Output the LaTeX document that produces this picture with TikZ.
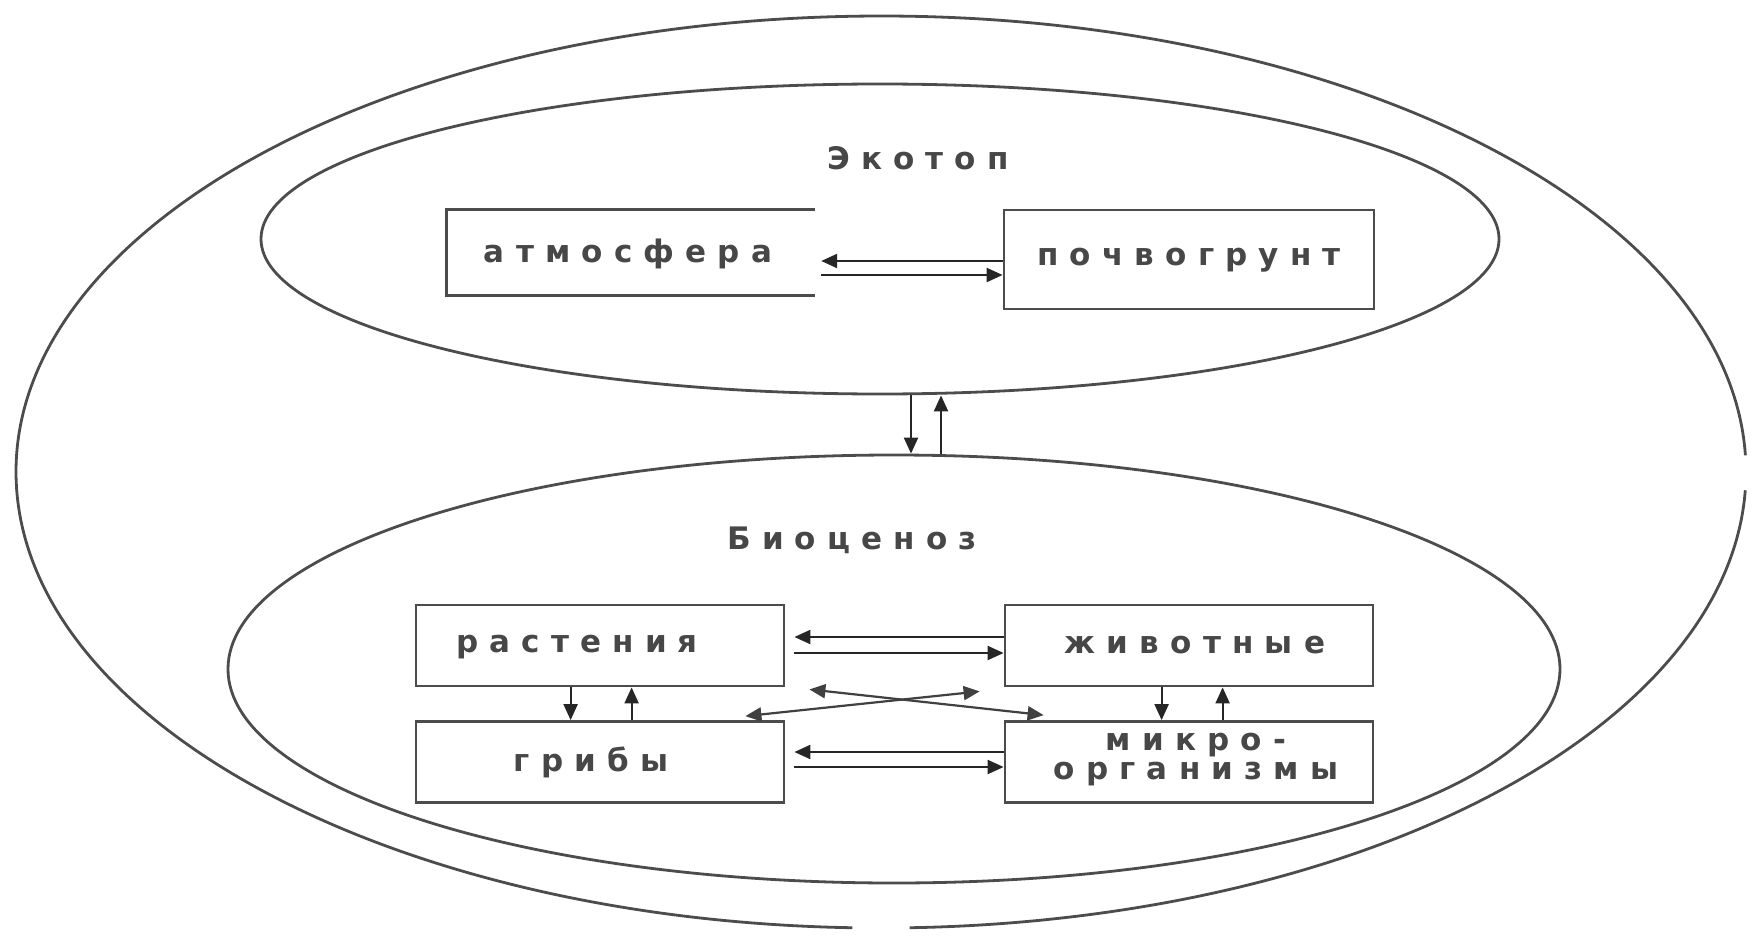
\documentclass[tikz,border=0pt]{standalone}
\usepackage{fontspec}
\setmainfont{DejaVu Sans}
\newfontfamily\lblfont[LetterSpace=36]{DejaVu Sans Bold}
\usetikzlibrary{shapes.geometric,arrows.meta,calc}
\begin{document}
\begin{tikzpicture}[x=1pt,y=-1pt,
  lbl/.style={font=\lblfont\fontsize{31}{34}\selectfont, text=black!72, inner sep=0pt},
  box/.style={draw=black!70, line width=2.8pt, minimum width=368pt, minimum height=81pt, inner sep=0pt},
  arr/.style={-{Triangle[length=16pt,width=14pt]}, line width=2.2pt, draw=black!85},
  darr/.style={{Triangle[length=16pt,width=14pt]}-{Triangle[length=16pt,width=14pt]}, line width=2.2pt, draw=black!75},
  ring/.style={draw=black!70, line width=2.8pt, ellipse, inner sep=0pt}]
\useasboundingbox (0,0) rectangle (1763,936);
% outer ellipse with two small gaps
\draw[draw=black!70, line width=2.8pt] ([shift={(2.1:865pt and 456pt)}]881,472)
   arc[start angle=2.1, end angle=268.1, x radius=865pt, y radius=456pt];
\draw[draw=black!70, line width=2.8pt] ([shift={(271.9:865pt and 456pt)}]881,472)
   arc[start angle=271.9, end angle=357.7, x radius=865pt, y radius=456pt];
% inner ellipses
\node[ring, minimum width=1238pt, minimum height=310pt] (eco) at (880,239) {};
\node[ring, minimum width=1332pt, minimum height=428pt] (bio) at (894,669) {};
\node[lbl] (teco) at (918,158) {Экотоп};
\node[lbl] (tbio) at (852,540) {Биоценоз};
% ecotope boxes
\node[minimum width=368pt, minimum height=85pt, inner sep=0pt] (atm) at (631,252.5) {};
\draw[draw=black!70, line width=2.8pt] (atm.north east) -- (atm.north west) -- (atm.south west) -- (atm.south east);
\node[lbl] (tatm) at (628,254) {атмосфера};
\node[box, minimum width=370pt, minimum height=99pt] (poch) at (1189,259.5) {};
\node[lbl] (tpoch) at (1189,260) {почвогрунт};
\draw[arr] ($(poch.west)+(0,1.5)$) -- ($(atm.east|-poch.west)+(6,1.5)$);
\draw[arr] ($(atm.east|-poch.west)+(6,15.5)$) -- ($(poch.west)+(0,15.5)$);
% between ellipses
\coordinate (d1) at ($(eco.south)+(31,0)$);
\coordinate (u1) at ($(eco.south)+(61,0)$);
\draw[arr] (d1) -- (d1 |- bio.north);
\draw[arr] (u1 |- bio.north) -- (u1);
% biocenosis boxes
\node[box] (rast) at (600,645.5) {};
\node[box] (zhiv) at (1189,645.5) {};
\node[box] (grib) at (600,762) {};
\node[box] (mikro) at (1189,762) {};
\node[lbl] (trast) at (577,647) {растения};
\node[lbl] (tzhiv) at (1195,645) {животные};
\node[lbl] (tgrib) at (591,762) {грибы};
\node[lbl, align=center] (tmikro) at (1196,760) {микро-\\[-5pt]организмы};
% horizontal
\draw[arr] ($(zhiv.west)+(0,-8.5)$) -- ($(rast.east)+(9,-8.5)$);
\draw[arr] ($(rast.east)+(9,7.5)$) -- ($(zhiv.west)+(0,7.5)$);
\draw[arr] ($(mikro.west)+(0,-10)$) -- ($(grib.east)+(9,-10)$);
\draw[arr] ($(grib.east)+(9,5)$) -- ($(mikro.west)+(0,5)$);
% vertical
\coordinate (rd) at ($(rast.south west)+(156,0)$);
\coordinate (ru) at ($(rast.south west)+(217,0)$);
\coordinate (zd) at ($(zhiv.south west)+(158,0)$);
\coordinate (zu) at ($(zhiv.south west)+(219,0)$);
\draw[arr] (rd) -- (rd |- grib.north);
\draw[arr] (ru |- grib.north) -- (ru);
\draw[arr] (zd) -- (zd |- mikro.north);
\draw[arr] (zu |- mikro.north) -- (zu);
% diagonals
\draw[darr] ($(rast.south east)+(24,2)$) -- ($(mikro.north west)+(40,-5)$);
\draw[darr] ($(zhiv.south west)+(-24,4)$) -- ($(grib.north east)+(-40,-4)$);
\end{tikzpicture}
\end{document}
